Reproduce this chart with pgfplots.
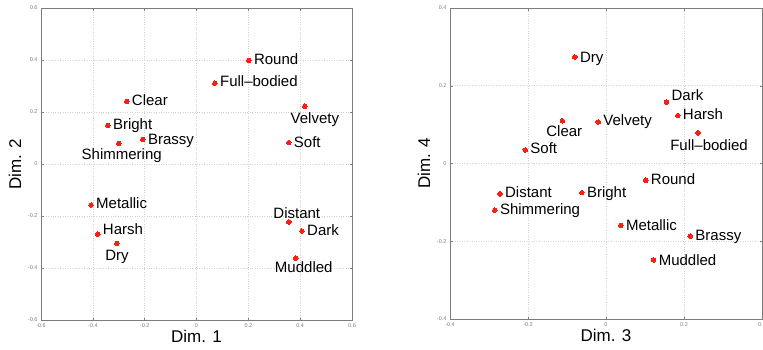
\documentclass[border=0pt]{standalone}
\usepackage{pgfplots}
\pgfplotsset{compat=1.18}
\usepackage{fontspec}
\setmainfont{Liberation Sans}
\definecolor{dotred}{RGB}{250,30,20}
\definecolor{axgray}{RGB}{125,125,125}

\pgfplotsset{
  mds/.style={
    scale only axis,
    axis line style={axgray, line width=0.7pt},
    tick style={axgray, line width=0.4pt},
    major tick length=2.5pt,
    tick align=inside,
    ticklabel style={font=\fontsize{5.5}{6}\selectfont, text=axgray},
    /pgf/number format/assume math mode=true,
    /pgf/number format/fixed,
    grid=major,
    grid style={dotted, gray!35, line width=0.6pt},
    label style={font=\fontsize{17}{20}\selectfont},
    xlabel style={at={(axis description cs:0.5,0)}, anchor=base, yshift=-22pt},
    ylabel style={at={(axis description cs:0,0.5)}, anchor=base, yshift=20pt},
  },
  pts/.style={only marks, color=dotred, mark=*, mark size=2.3pt, mark options={draw=dotred, fill=dotred, line width=0pt}},
}
\tikzset{lbl/.style={font=\fontsize{15}{18}\selectfont, text=black, inner sep=0pt}}
% right-hand label: dot at (x,y), offset dy
\newcommand{\R}[4]{\node[lbl, anchor=mid west, xshift=5pt, yshift=#3pt] at (axis cs:#1,#2) {#4};}
% centred label on the baseline: dot at (x,y), offsets dx dy
\newcommand{\C}[5]{\node[lbl, anchor=base, xshift=#3pt, yshift=#4pt] at (axis cs:#1,#2) {#5};}

\begin{document}
\begin{tikzpicture}[x=1pt,y=1pt]
\begin{axis}[mds,
  at={(41pt,29pt)}, anchor=south west,
  width=311pt, height=312pt,
  xmin=-0.6, xmax=0.6, ymin=-0.6, ymax=0.6,
  xtick={-0.6,-0.4,-0.2,0,0.2,0.4,0.6},
  ytick={-0.6,-0.4,-0.2,0,0.2,0.4,0.6},
  xlabel={Dim. 1}, ylabel={Dim. 2}]
\addplot[pts] coordinates {
 (0.202,0.398) (0.071,0.311) (-0.269,0.241) (0.418,0.222) (-0.342,0.148)
 (-0.207,0.094) (-0.300,0.079) (0.356,0.082) (-0.407,-0.158) (-0.381,-0.270)
 (-0.307,-0.305) (0.356,-0.223) (0.407,-0.258) (0.383,-0.362)};
\R{0.202}{0.398}{-1}{Round}
\R{0.071}{0.311}{-1}{Full--bodied}
\R{-0.269}{0.241}{-2}{Clear}
\C{0.418}{0.222}{10}{-17}{Velvety}
\R{-0.342}{0.148}{-1}{Bright}
\R{-0.207}{0.094}{-2}{Brassy}
\C{-0.300}{0.079}{3}{-16.5}{Shimmering}
\R{0.356}{0.082}{-2}{Soft}
\R{-0.407}{-0.158}{-1}{Metallic}
\R{-0.381}{-0.270}{2}{Harsh}
\C{-0.307}{-0.305}{0}{-17}{Dry}
\C{0.356}{-0.223}{8}{3.3}{Distant}
\R{0.407}{-0.258}{-2}{Dark}
\C{0.383}{-0.362}{8}{-14.6}{Muddled}
\end{axis}
\begin{axis}[mds,
  at={(450pt,30pt)}, anchor=south west,
  width=312pt, height=311pt,
  xmin=-0.4, xmax=0.4, ymin=-0.4, ymax=0.4,
  xtick={-0.4,-0.2,0,0.2,0.4},
  ytick={-0.4,-0.2,0,0.2,0.4},
  xlabel={Dim. 3}, ylabel={Dim. 4}]
\addplot[pts] coordinates {
 (-0.080,0.274) (0.155,0.158) (0.184,0.123) (-0.112,0.110) (-0.020,0.107)
 (0.236,0.079) (-0.207,0.035) (0.102,-0.043) (-0.272,-0.078) (-0.062,-0.075)
 (-0.285,-0.120) (0.038,-0.159) (0.216,-0.187) (0.122,-0.248)};
\R{-0.080}{0.274}{-2.4}{Dry}
\R{0.155}{0.158}{3.9}{Dark}
\R{0.184}{0.123}{-1}{Harsh}
\C{-0.112}{0.110}{2}{-15.7}{Clear}
\R{-0.020}{0.107}{-1}{Velvety}
\C{0.236}{0.079}{11}{-17.3}{Full--bodied}
\R{-0.207}{0.035}{-1.4}{Soft}
\R{0.102}{-0.043}{-1.7}{Round}
\R{-0.272}{-0.078}{-1.4}{Distant}
\R{-0.062}{-0.075}{-1.7}{Bright}
\R{-0.285}{-0.120}{-1.7}{Shimmering}
\R{0.038}{-0.159}{-2.3}{Metallic}
\R{0.216}{-0.187}{-1.3}{Brassy}
\R{0.122}{-0.248}{-2.8}{Muddled}
\end{axis}
\pgfresetboundingbox
\useasboundingbox (0,0) rectangle (763,349);
\end{tikzpicture}
\end{document}
